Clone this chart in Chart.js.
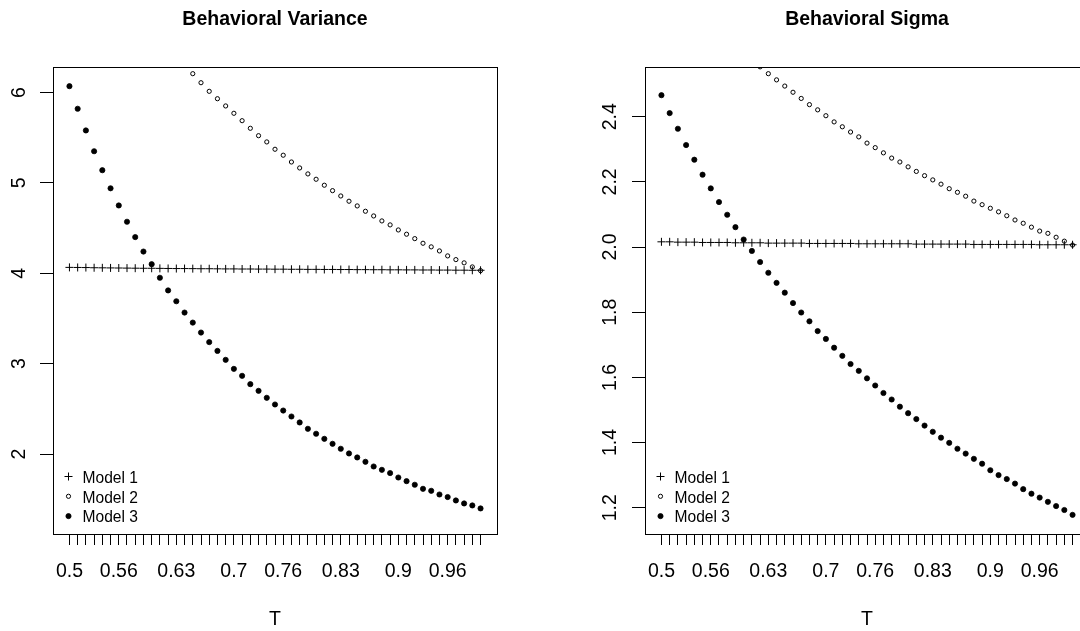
<!DOCTYPE html>
<html>
<head>
<meta charset="utf-8">
<title>Behavioral Variance and Sigma</title>
<script src="https://cdn.jsdelivr.net/npm/chart.js@4.4.1/dist/chart.umd.min.js"></script>
<style>
  html, body { margin: 0; padding: 0; background: #fff; overflow: hidden; }
  #wrap { display: flex; width: 1184px; height: 631px; }
  canvas { display: block; }
</style>
</head>
<body>
<div id="wrap">
  <canvas id="varChart" width="592" height="631"></canvas>
  <canvas id="sdChart" width="592" height="631"></canvas>
</div>
<script>
// T values (x axis), one point per value
const tValues = [0.50, 0.51, 0.52, 0.53, 0.54, 0.55, 0.56, 0.57, 0.58, 0.59,
  0.60, 0.61, 0.62, 0.63, 0.64, 0.65, 0.66, 0.67, 0.68, 0.69,
  0.70, 0.71, 0.72, 0.73, 0.74, 0.75, 0.76, 0.77, 0.78, 0.79,
  0.80, 0.81, 0.82, 0.83, 0.84, 0.85, 0.86, 0.87, 0.88, 0.89,
  0.90, 0.91, 0.92, 0.93, 0.94, 0.95, 0.96, 0.97, 0.98, 0.99, 1.00];

// labels R managed to print under the ticks
const xTickLabels = ['0.5', '0.56', '0.63', '0.7', '0.76', '0.83', '0.9', '0.96'];
const varTicks = [2, 3, 4, 5, 6];
const sdTicks = [1.2, 1.4, 1.6, 1.8, 2.0, 2.2, 2.4];
const seriesNames = ['Model 1', 'Model 2', 'Model 3'];

// Behavioral Variance
const varModel1 = [4.065, 4.064, 4.063, 4.061, 4.060, 4.059, 4.058, 4.057, 4.056, 4.055,
  4.055, 4.054, 4.053, 4.052, 4.052, 4.051, 4.050, 4.050, 4.049, 4.048,
  4.048, 4.047, 4.047, 4.046, 4.046, 4.045, 4.045, 4.044, 4.044, 4.043,
  4.043, 4.042, 4.042, 4.041, 4.041, 4.040, 4.040, 4.039, 4.039, 4.038,
  4.038, 4.037, 4.037, 4.036, 4.036, 4.035, 4.035, 4.034, 4.034, 4.033, 4.033];
// first points are above the plotted range
const varModel2 = [null, null, null, null, null, null, null, null, null, null,
  null, null, null, null, null, 6.208, 6.108, 6.013, 5.931, 5.851,
  5.770, 5.688, 5.604, 5.522, 5.453, 5.372, 5.306, 5.231, 5.165, 5.099,
  5.040, 4.974, 4.914, 4.855, 4.797, 4.745, 4.686, 4.634, 4.579, 4.535,
  4.479, 4.432, 4.383, 4.332, 4.292, 4.247, 4.192, 4.151, 4.115, 4.070, 4.029];
const varModel3 = [6.07, 5.82, 5.58, 5.35, 5.14, 4.94, 4.75, 4.57, 4.40, 4.24,
  4.10, 3.95, 3.81, 3.69, 3.565, 3.454, 3.344, 3.238, 3.141, 3.042,
  2.942, 2.865, 2.773, 2.699, 2.622, 2.548, 2.481, 2.415, 2.349, 2.279,
  2.224, 2.168, 2.113, 2.058, 2.006, 1.962, 1.914, 1.862, 1.825, 1.789,
  1.740, 1.700, 1.660, 1.615, 1.593, 1.552, 1.524, 1.486, 1.453, 1.431, 1.398];

// Behavioral Sigma
const sdModel1 = [2.016, 2.016, 2.015, 2.015, 2.015, 2.014, 2.014, 2.014, 2.014, 2.013,
  2.013, 2.013, 2.013, 2.012, 2.012, 2.012, 2.012, 2.012, 2.011, 2.011,
  2.011, 2.011, 2.011, 2.011, 2.010, 2.010, 2.010, 2.010, 2.010, 2.010,
  2.010, 2.009, 2.009, 2.009, 2.009, 2.009, 2.009, 2.009, 2.008, 2.008,
  2.008, 2.008, 2.008, 2.008, 2.008, 2.008, 2.007, 2.007, 2.007, 2.007, 2.007];
const sdModel2 = [null, null, null, null, null, null, null, null, null, null,
  null, null, 2.553, 2.532, 2.513, 2.494, 2.475, 2.456, 2.437, 2.421,
  2.403, 2.384, 2.369, 2.353, 2.338, 2.319, 2.305, 2.289, 2.273, 2.261,
  2.246, 2.232, 2.219, 2.206, 2.193, 2.179, 2.168, 2.156, 2.141, 2.130,
  2.119, 2.108, 2.096, 2.083, 2.073, 2.061, 2.049, 2.042, 2.030, 2.018, 2.006];
const sdModel3 = [2.466, 2.411, 2.363, 2.313, 2.268, 2.222, 2.180, 2.138, 2.099, 2.061,
  2.023, 1.988, 1.954, 1.921, 1.890, 1.860, 1.828, 1.799, 1.772, 1.742,
  1.718, 1.691, 1.666, 1.641, 1.620, 1.597, 1.575, 1.552, 1.532, 1.510,
  1.490, 1.472, 1.452, 1.433, 1.415, 1.399, 1.381, 1.366, 1.350, 1.335,
  1.315, 1.300, 1.288, 1.274, 1.257, 1.243, 1.231, 1.218, 1.205, 1.193, 1.178];

const FONT = "'Liberation Sans', Arial, Helvetica, sans-serif";
Chart.defaults.font.family = FONT;
Chart.defaults.color = '#000';

// pch 3, 1, 16 look-alikes
const markStyles = [
  { pointStyle: 'cross', pointRadius: 4, borderWidth: 1, borderColor: '#000', backgroundColor: '#000' },
  { pointStyle: 'circle', pointRadius: 2.1, borderWidth: 1, borderColor: '#000', backgroundColor: 'rgba(0,0,0,0)' },
  { pointStyle: 'circle', pointRadius: 2.6, borderWidth: 0.8, borderColor: '#000', backgroundColor: '#000' }
];

function drawMark(ctx, ds, x, y) {
  const r = ds.pointRadius;
  ctx.save();
  ctx.lineWidth = ds.borderWidth;
  ctx.strokeStyle = ds.borderColor;
  ctx.fillStyle = ds.backgroundColor;
  ctx.beginPath();
  if (ds.pointStyle === 'cross') {
    ctx.moveTo(x - r, y); ctx.lineTo(x + r, y);
    ctx.moveTo(x, y - r); ctx.lineTo(x, y + r);
    ctx.stroke();
  } else {
    ctx.arc(x, y, r, 0, Math.PI * 2);
    ctx.fill();
    ctx.stroke();
  }
  ctx.restore();
}

// R style box around the plot region
const boxPlugin = {
  id: 'rbox',
  afterDraw(chart) {
    const { ctx, chartArea: a } = chart;
    ctx.save();
    ctx.strokeStyle = '#000';
    ctx.lineWidth = 1;
    ctx.strokeRect(Math.round(a.left) + 0.5, Math.round(a.top) + 0.5,
      Math.round(a.right - a.left), Math.round(a.bottom - a.top));
    ctx.restore();
  }
};

// legend in the bottom left corner, no frame (bty = "n")
const legendPlugin = {
  id: 'rlegend',
  afterDraw(chart) {
    const { ctx, chartArea: a } = chart;
    ctx.save();
    ctx.font = '15.6px ' + FONT;
    ctx.fillStyle = '#000';
    ctx.textBaseline = 'middle';
    ctx.textAlign = 'left';
    chart.data.datasets.forEach((ds, i) => {
      const y = a.bottom - 55.5 + i * 19.8;
      drawMark(ctx, ds, a.left + 15.5, y - 2);
      ctx.fillText(ds.label, a.left + 29.5, y);
    });
    ctx.restore();
  }
};

function makeChart(id, title, series, yMin, yMax, yTicks, yFormat, yPad) {
  const datasets = series.map((vals, i) => Object.assign({
    label: seriesNames[i],
    data: tValues.map((t, j) => ({ x: t, y: vals[j] }))
  }, markStyles[i]));

  return new Chart(document.getElementById(id), {
    type: 'scatter',
    data: { datasets },
    options: {
      responsive: false,
      animation: false,
      devicePixelRatio: 1,
      events: [],
      layout: { padding: { left: 0, right: 95, top: 0, bottom: 0 } },
      plugins: {
        legend: { display: false },
        tooltip: { enabled: false },
        title: {
          display: true,
          text: title,
          fullSize: false,
          color: '#000',
          font: { size: 19.5, weight: 'bold' },
          padding: { top: 8.3, bottom: 35.3 }
        }
      },
      scales: {
        x: {
          type: 'linear',
          min: 0.48,
          max: 1.02,
          afterBuildTicks: s => { s.ticks = tValues.map(v => ({ value: v })); },
          afterFit: s => { s.height = 97; },
          border: { display: false },
          grid: { drawOnChartArea: false, drawTicks: true, tickLength: 11, color: '#000', lineWidth: 1 },
          ticks: {
            autoSkip: false,
            minRotation: 0,
            maxRotation: 0,
            padding: 15.3,
            color: '#000',
            font: { size: 19.5 },
            callback: v => {
              const s = String(Math.round(v * 100) / 100);
              return xTickLabels.includes(s) ? s : '';
            }
          },
          title: { display: true, text: 'T', color: '#000', font: { size: 19.5 }, padding: { top: 0, bottom: 0 } }
        },
        y: {
          type: 'linear',
          min: yMin,
          max: yMax,
          afterBuildTicks: s => { s.ticks = yTicks.map(v => ({ value: v })); },
          afterFit: s => { s.width = 53; },
          border: { display: false },
          grid: { drawOnChartArea: false, drawTicks: true, tickLength: 13, color: '#000', lineWidth: 1 },
          ticks: {
            minRotation: 90,
            maxRotation: 90,
            crossAlign: 'center',
            padding: yPad,
            color: '#000',
            font: { size: 19.5 },
            callback: yFormat
          }
        }
      }
    },
    plugins: [boxPlugin, legendPlugin]
  });
}

makeChart('varChart', 'Behavioral Variance', [varModel1, varModel2, varModel3],
  1.115, 6.282, varTicks, v => String(v), 15.4);
makeChart('sdChart', 'Behavioral Sigma', [sdModel1, sdModel2, sdModel3],
  1.1193, 2.5525, sdTicks, v => v.toFixed(1), 8.15);
</script>
</body>
</html>
